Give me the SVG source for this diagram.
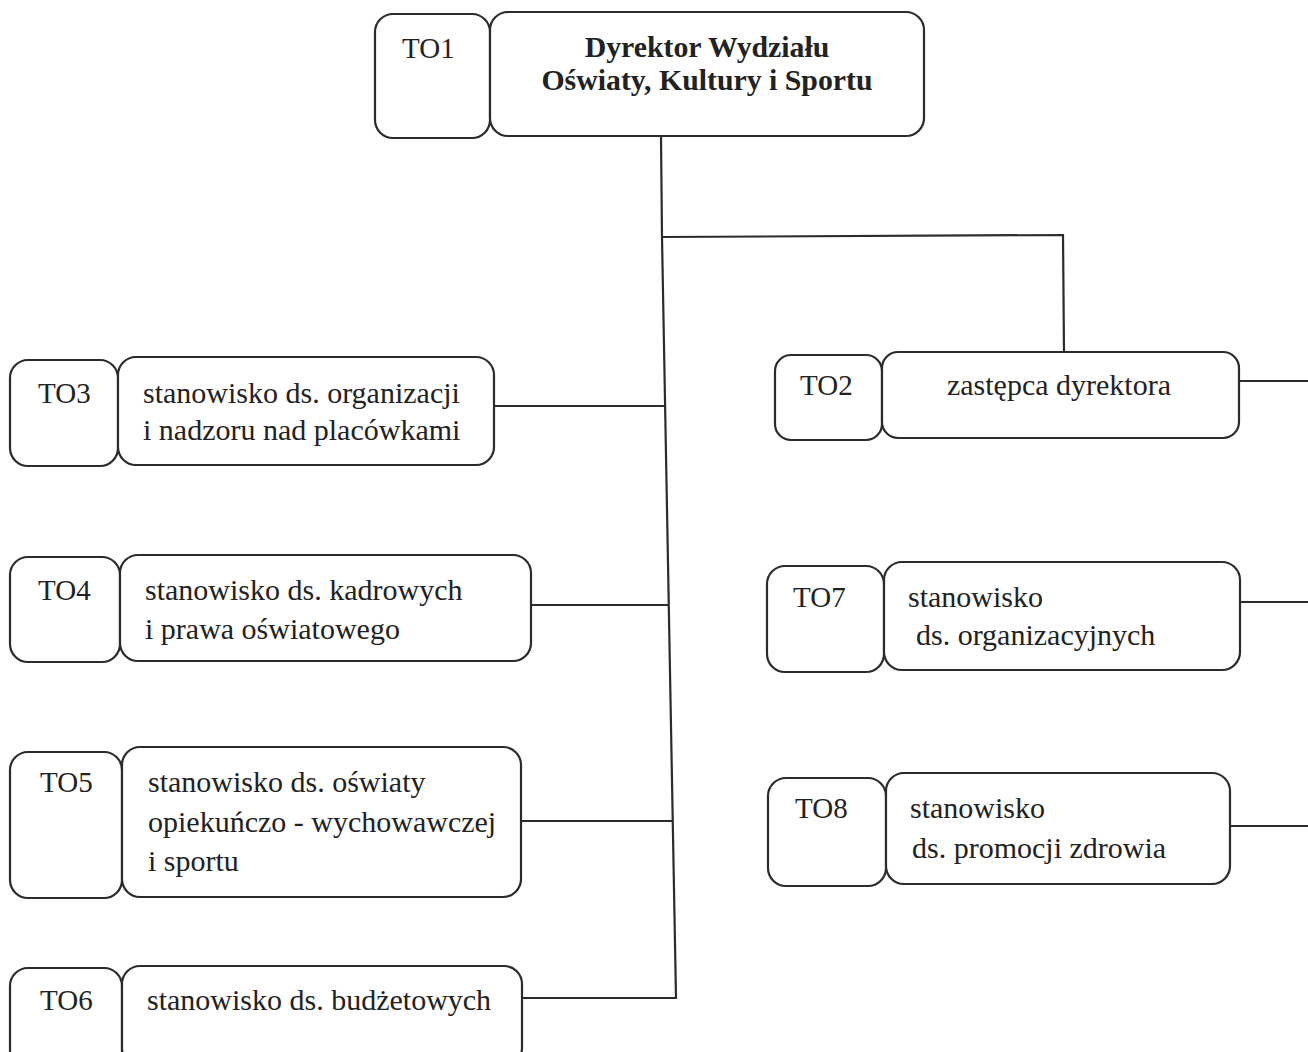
<svg xmlns="http://www.w3.org/2000/svg" width="1308" height="1052" viewBox="0 0 1308 1052">
<style>
.b{fill:#fff;stroke:#2b2b2b;stroke-width:2.2}
.t{font-family:"Liberation Serif","Times New Roman",serif;font-size:30px;fill:#222}
.k{font-family:"Liberation Serif","Times New Roman",serif;font-size:29px;fill:#222}
.h{font-family:"Liberation Serif","Times New Roman",serif;font-size:29.8px;font-weight:bold;fill:#222}
.c{fill:none;stroke:#2b2b2b;stroke-width:2.2}
</style>
<rect width="1308" height="1052" fill="#fff"/>
<g id="connectors">
<polyline class="c" points="661,137 662,237 676,998 522,998"/>
<polyline class="c" points="662,237 1063,235 1064,352"/>
<line class="c" x1="494" y1="406" x2="664" y2="406"/>
<line class="c" x1="531" y1="605" x2="668" y2="605"/>
<line class="c" x1="521" y1="821" x2="672" y2="821"/>
<line class="c" x1="1239" y1="381" x2="1308" y2="381"/>
<line class="c" x1="1240" y1="602" x2="1308" y2="602"/>
<line class="c" x1="1230" y1="826" x2="1308" y2="826"/>
</g>
<g id="TO1">
<rect class="b" x="375" y="14" width="115" height="124" rx="18"/>
<rect class="b" x="490" y="12" width="434" height="124" rx="18"/>
<text class="k" x="402" y="58">TO1</text>
<text class="h" x="707" y="57" text-anchor="middle">Dyrektor Wydziału</text>
<text class="h" x="707" y="90" text-anchor="middle">Oświaty, Kultury i Sportu</text>
</g>
<g id="TO3">
<rect class="b" x="10" y="360" width="108" height="106" rx="18"/>
<rect class="b" x="118" y="357" width="376" height="108" rx="18"/>
<text class="k" x="38" y="403">TO3</text>
<text class="t" x="143" y="403">stanowisko ds. organizacji</text>
<text class="t" x="143" y="440">i nadzoru nad placówkami</text>
</g>
<g id="TO4">
<rect class="b" x="10" y="557" width="110" height="105" rx="18"/>
<rect class="b" x="120" y="555" width="411" height="106" rx="18"/>
<text class="k" x="38" y="600">TO4</text>
<text class="t" x="145" y="600">stanowisko ds. kadrowych</text>
<text class="t" x="145" y="639">i prawa oświatowego</text>
</g>
<g id="TO5">
<rect class="b" x="10" y="752" width="112" height="146" rx="18"/>
<rect class="b" x="122" y="747" width="399" height="150" rx="18"/>
<text class="k" x="40" y="792">TO5</text>
<text class="t" x="148" y="792">stanowisko ds. oświaty</text>
<text class="t" x="148" y="832">opiekuńczo - wychowawczej</text>
<text class="t" x="148" y="871">i sportu</text>
</g>
<g id="TO6">
<rect class="b" x="10" y="968" width="112" height="100" rx="18"/>
<rect class="b" x="122" y="966" width="400" height="100" rx="18"/>
<text class="k" x="40" y="1010">TO6</text>
<text class="t" x="147" y="1010">stanowisko ds. budżetowych</text>
</g>
<g id="TO2">
<rect class="b" x="775" y="355" width="107" height="85" rx="16"/>
<rect class="b" x="882" y="352" width="357" height="86" rx="16"/>
<text class="k" x="800" y="395">TO2</text>
<text class="t" x="1059" y="395" text-anchor="middle">zastępca dyrektora</text>
</g>
<g id="TO7">
<rect class="b" x="767" y="566" width="117" height="106" rx="18"/>
<rect class="b" x="884" y="562" width="356" height="108" rx="18"/>
<text class="k" x="793" y="607">TO7</text>
<text class="t" x="908" y="607">stanowisko</text>
<text class="t" x="916" y="645">ds. organizacyjnych</text>
</g>
<g id="TO8">
<rect class="b" x="768" y="778" width="118" height="108" rx="18"/>
<rect class="b" x="886" y="773" width="344" height="111" rx="18"/>
<text class="k" x="795" y="818">TO8</text>
<text class="t" x="910" y="818">stanowisko</text>
<text class="t" x="912" y="858">ds. promocji zdrowia</text>
</g>
</svg>
